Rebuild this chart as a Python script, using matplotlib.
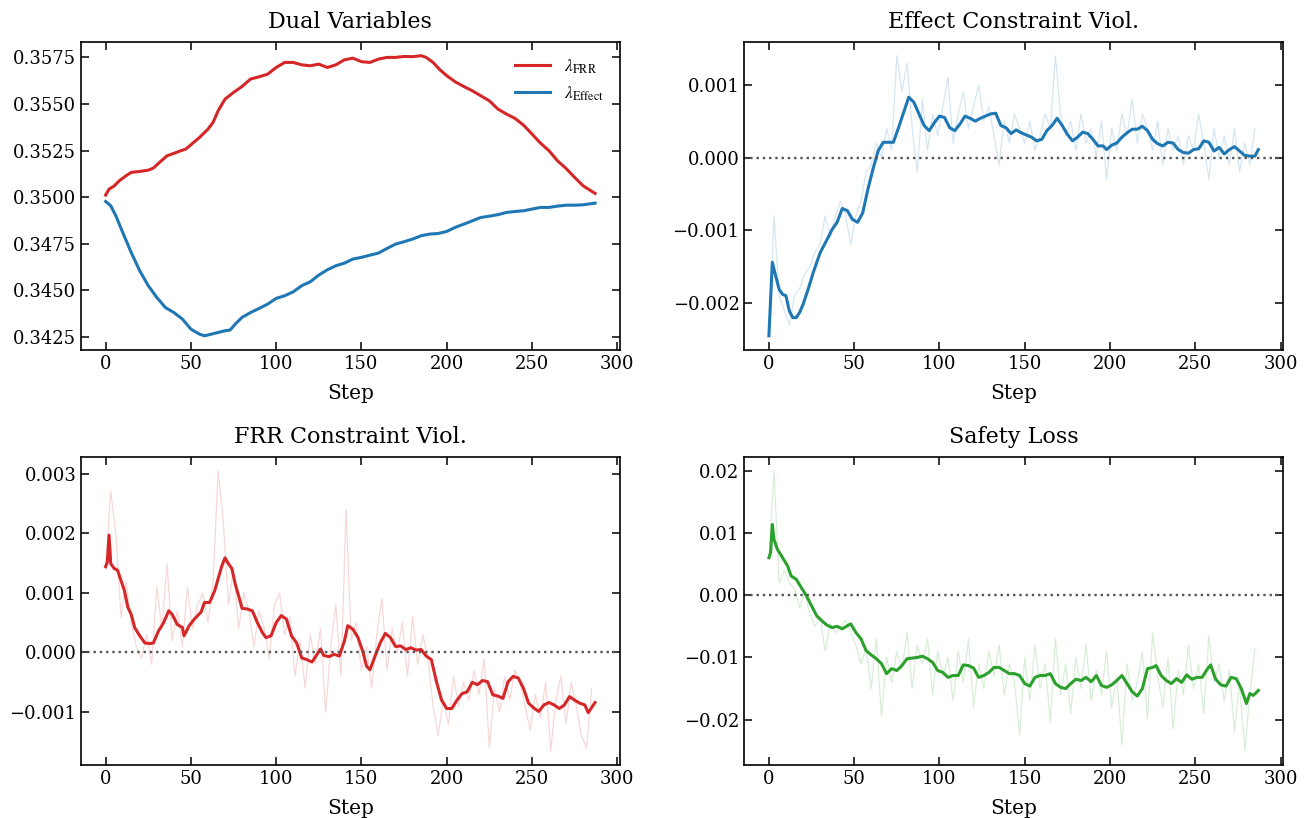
import numpy as np
import matplotlib
matplotlib.use("Agg")
import matplotlib.pyplot as plt

plt.rcParams['font.family'] = 'serif'
plt.rcParams['font.serif'] = ['DejaVu Serif']
plt.rcParams['mathtext.fontset'] = 'stix'

# ---- Dual variables (smoothed only) ----
dual_steps = [0, 2, 5, 8, 12, 15, 20, 25, 28, 32, 36, 40, 44, 47, 50, 55, 60, 63, 66, 70,
              75, 80, 85, 90, 95, 100, 105, 110, 115, 120, 125, 130, 135, 140, 145, 150,
              155, 160, 165, 170, 175, 180, 185, 188, 192, 196, 200, 205, 210, 215, 220,
              225, 230, 235, 240, 245, 250, 255, 260, 265, 270, 275, 280, 287]
lam_frr = [0.35011, 0.35043, 0.35060, 0.35088, 0.35115, 0.35133, 0.35138, 0.35145, 0.35156,
           0.35190, 0.35222, 0.35235, 0.35249, 0.35258, 0.35281, 0.35320, 0.35365, 0.35401,
           0.35464, 0.35526, 0.35562, 0.35594, 0.35634, 0.35646, 0.35660, 0.35696, 0.35723,
           0.35723, 0.35710, 0.35705, 0.35714, 0.35696, 0.35710, 0.35737, 0.35746, 0.35727,
           0.35723, 0.35741, 0.35750, 0.35750, 0.35755, 0.35754, 0.35759, 0.35750, 0.35723,
           0.35684, 0.35652, 0.35619, 0.35594, 0.35571, 0.35544, 0.35517, 0.35473, 0.35446,
           0.35423, 0.35387, 0.35339, 0.35290, 0.35249, 0.35195, 0.35154, 0.35106, 0.35061,
           0.35020]
lam_eff_steps = [0, 3, 6, 10, 15, 20, 25, 30, 35, 40, 45, 50, 55, 58, 62, 66, 70, 73, 76, 80,
                 85, 90, 95, 100, 105, 110, 115, 120, 125, 130, 135, 140, 145, 150, 155, 160,
                 165, 170, 175, 180, 185, 190, 195, 200, 205, 210, 215, 220, 225, 230, 235,
                 240, 245, 250, 255, 260, 265, 270, 275, 280, 287]
lam_eff = [0.34977, 0.34954, 0.34900, 0.34811, 0.34703, 0.34605, 0.34525, 0.34462, 0.34408,
           0.34381, 0.34346, 0.34292, 0.34265, 0.34256, 0.34265, 0.34274, 0.34283, 0.34287,
           0.34319, 0.34355, 0.34381, 0.34403, 0.34426, 0.34457, 0.34471, 0.34492, 0.34525,
           0.34546, 0.34582, 0.34610, 0.34632, 0.34646, 0.34668, 0.34677, 0.34689, 0.34700,
           0.34725, 0.34748, 0.34761, 0.34775, 0.34793, 0.34802, 0.34805, 0.34816, 0.34838,
           0.34855, 0.34873, 0.34891, 0.34898, 0.34906, 0.34918, 0.34923, 0.34927, 0.34936,
           0.34945, 0.34945, 0.34952, 0.34957, 0.34957, 0.34959, 0.34968]

# raw series are sampled every 3 steps
raw_steps = list(range(0, 288, 3))

# ---- Effect constraint violation ----
eff_steps = [0, 2, 4, 6, 8, 10, 12, 14, 16, 18, 20, 23, 26, 30, 34, 37, 40, 43, 46, 49, 52,
             55, 58, 61, 64, 67, 70, 73, 76, 79, 82, 85, 88, 91, 94, 97, 100, 103, 106, 109,
             112, 115, 118, 121, 124, 127, 130, 133, 136, 139, 142, 145, 148, 151, 154, 157,
             160, 163, 166, 169, 172, 175, 178, 181, 184, 187, 190, 193, 196, 198, 201, 204,
             207, 210, 213, 216, 219, 222, 225, 228, 231, 234, 237, 240, 243, 246, 249, 252,
             255, 258, 261, 264, 267, 270, 273, 276, 279, 282, 285, 287]
eff_smooth = [-0.00245, -0.00144, -0.00163, -0.00181, -0.00188, -0.00190, -0.00211, -0.00220,
              -0.00220, -0.00213, -0.00202, -0.00181, -0.00158, -0.00131, -0.00113, -0.00099,
              -0.00089, -0.00070, -0.00073, -0.00085, -0.00089, -0.00076, -0.00044, -0.00016,
              0.00009, 0.00021, 0.00021, 0.00021, 0.00041, 0.00062, 0.00083, 0.00076, 0.00060,
              0.00044, 0.00037, 0.00048, 0.00057, 0.00055, 0.00041, 0.00037, 0.00046, 0.00057,
              0.00054, 0.00050, 0.00054, 0.00057, 0.00060, 0.00061, 0.00044, 0.00041, 0.00033,
              0.00038, 0.00034, 0.00031, 0.00028, 0.00023, 0.00025, 0.00037, 0.00044, 0.00054,
              0.00044, 0.00032, 0.00023, 0.00028, 0.00035, 0.00033, 0.00025, 0.00016, 0.00016,
              0.00011, 0.00017, 0.00020, 0.00028, 0.00034, 0.00039, 0.00039, 0.00043, 0.00037,
              0.00025, 0.00019, 0.00016, 0.00021, 0.00020, 0.00011, 0.00007, 0.00006, 0.00011,
              0.00012, 0.00023, 0.00021, 0.00009, 0.00014, 0.00005, 0.00011, 0.00015, 0.00009,
              0.00003, 0.00002, 0.00002, 0.00011]
eff_raw = [-0.0024, -0.0008, -0.0019, -0.0021, -0.0023, -0.0019, -0.0018, -0.0016, -0.0015,
           -0.0013, -0.0012, -0.0008, -0.0011, -0.0008, -0.0006, -0.0008, -0.0012, -0.0008,
           -0.0006, -0.0002, -0.0001, 0.0002, 0.0000, 0.0004, 0.0001, 0.0014, 0.0009, 0.0013,
           0.0004, -0.0002, 0.0008, 0.0001, 0.0006, 0.0003, 0.0007, 0.0011, 0.0002, 0.0006,
           0.0009, 0.0004, 0.0007, 0.0010, 0.0005, 0.0007, 0.0003, -0.0001, 0.0005, 0.0002,
           0.0006, 0.0004, 0.0002, 0.0005, 0.0001, 0.0003, 0.0006, 0.0004, 0.0014, 0.0006,
           0.0003, 0.0005, 0.0001, 0.0006, 0.0002, 0.0004, 0.0000, 0.0005, -0.0003, 0.0004,
           0.0001, 0.0006, 0.0003, 0.0008, 0.0002, 0.0006, 0.0004, 0.0001, 0.0005, -0.0001,
           0.0004, 0.0001, 0.0003, -0.0001, 0.0003, 0.0001, 0.0006, 0.0002, -0.0003, 0.0004,
           0.0000, 0.0003, -0.0001, 0.0004, -0.0002, 0.0002, -0.0001, 0.0004]

# ---- FRR constraint violation ----
frr_steps = [0, 1, 2, 3, 5, 7, 9, 11, 13, 15, 17, 20, 23, 26, 28, 31, 34, 37, 39, 42, 45, 46,
             49, 52, 56, 58, 61, 64, 66, 68, 70, 72, 74, 76, 78, 80, 83, 86, 89, 92, 94, 97,
             100, 103, 106, 109, 112, 115, 118, 121, 124, 126, 128, 131, 134, 137, 140, 142,
             145, 148, 151, 153, 155, 158, 161, 164, 167, 170, 173, 176, 179, 182, 185, 188,
             191, 194, 197, 200, 203, 206, 209, 212, 215, 218, 221, 224, 227, 230, 233, 236,
             239, 242, 245, 248, 251, 254, 257, 260, 263, 266, 269, 272, 275, 278, 281, 283,
             286, 287]
frr_smooth = [0.00144, 0.00152, 0.00197, 0.00149, 0.00141, 0.00138, 0.00121, 0.00104, 0.00076,
              0.00064, 0.00042, 0.00028, 0.00016, 0.00015, 0.00016, 0.00036, 0.00050, 0.00070,
              0.00064, 0.00047, 0.00042, 0.00028, 0.00045, 0.00056, 0.00068, 0.00084, 0.00084,
              0.00104, 0.00124, 0.00144, 0.00159, 0.00149, 0.00141, 0.00115, 0.00095, 0.00074,
              0.00073, 0.00070, 0.00050, 0.00033, 0.00025, 0.00028, 0.00050, 0.00062, 0.00056,
              0.00028, 0.00016, -0.00009, -0.00012, -0.00016, -0.00003, 0.00006, -0.00005,
              -0.00007, -0.00003, -0.00006, 0.00019, 0.00045, 0.00039, 0.00025, 0.00000,
              -0.00023, -0.00029, -0.00006, 0.00016, 0.00032, 0.00025, 0.00010, 0.00011,
              0.00005, 0.00008, 0.00004, 0.00005, -0.00006, -0.00012, -0.00049, -0.00080,
              -0.00094, -0.00094, -0.00080, -0.00069, -0.00066, -0.00050, -0.00054, -0.00047,
              -0.00049, -0.00071, -0.00073, -0.00077, -0.00049, -0.00040, -0.00043, -0.00060,
              -0.00085, -0.00093, -0.00099, -0.00088, -0.00084, -0.00088, -0.00094, -0.00088,
              -0.00074, -0.00080, -0.00085, -0.00088, -0.00101, -0.00088, -0.00084]
frr_raw = [0.0014, 0.0027, 0.0020, 0.0006, 0.0012, 0.0005, 0.0001, -0.0001, 0.0003, -0.0002,
           0.0011, 0.0004, 0.0015, 0.0002, 0.0007, 0.0001, 0.0011, 0.0004, 0.0008, 0.0010,
           0.0005, 0.0012, 0.00305, 0.0022, 0.0008, 0.0014, 0.0004, 0.0010, 0.0007, 0.0001,
           0.0007, 0.0004, -0.0001, 0.0008, 0.0010, 0.0003, 0.0006, -0.0004, 0.0002, -0.0006,
           0.0003, -0.0002, 0.0004, -0.0010, 0.0001, 0.0008, -0.0004, 0.0024, 0.0002, 0.0005,
           -0.0003, 0.0001, -0.0006, 0.0003, 0.0009, -0.0003, 0.0004, 0.0000, 0.0005, -0.0004,
           0.0006, -0.0002, 0.0003, -0.0001, -0.0009, -0.0014, -0.0008, -0.0012, -0.0004,
           -0.0009, -0.0005, -0.0008, -0.0003, -0.0007, -0.0001, -0.0016, -0.0006, -0.0010,
           -0.0004, -0.0008, -0.0003, -0.0005, -0.0009, -0.0013, -0.0007, -0.0011, -0.0005,
           -0.00165, -0.0008, -0.0004, -0.0012, -0.0005, -0.0009, -0.0014, -0.0016, -0.0006]

# ---- Safety loss ----
saf_steps = [0, 1, 2, 3, 5, 8, 11, 13, 16, 19, 22, 25, 28, 31, 34, 37, 40, 43, 46, 48, 51, 54,
             57, 60, 63, 66, 69, 72, 75, 78, 81, 84, 87, 90, 93, 96, 99, 102, 105, 108, 111,
             114, 117, 120, 123, 126, 129, 132, 135, 138, 141, 144, 147, 150, 153, 156, 159,
             162, 165, 168, 171, 174, 177, 180, 183, 186, 189, 192, 195, 198, 201, 204, 207,
             210, 213, 216, 219, 222, 225, 227, 230, 233, 236, 239, 242, 245, 248, 251, 254,
             257, 259, 262, 265, 268, 271, 274, 277, 280, 282, 284, 286, 287]
saf_smooth = [0.00603, 0.00683, 0.01136, 0.00896, 0.00736, 0.00603, 0.00469, 0.00309, 0.00256,
              0.00123, -0.0001, -0.0017, -0.0033, -0.0041, -0.0048, -0.0052, -0.0050, -0.0054,
              -0.0049, -0.0046, -0.0060, -0.0070, -0.0089, -0.0096, -0.0102, -0.0110, -0.0126,
              -0.0118, -0.0121, -0.0113, -0.0102, -0.0101, -0.0100, -0.0098, -0.0102, -0.0108,
              -0.0121, -0.0124, -0.0132, -0.0129, -0.0129, -0.0112, -0.0113, -0.0117, -0.0132,
              -0.0129, -0.0124, -0.0116, -0.0116, -0.0121, -0.0126, -0.0126, -0.0129, -0.0142,
              -0.0146, -0.0132, -0.0129, -0.0129, -0.0126, -0.0142, -0.0148, -0.0150, -0.0142,
              -0.0135, -0.0137, -0.0132, -0.0139, -0.0129, -0.0145, -0.0148, -0.0144, -0.0137,
              -0.0129, -0.0142, -0.0155, -0.0162, -0.0150, -0.0118, -0.0116, -0.0113, -0.0129,
              -0.0137, -0.0142, -0.0134, -0.0140, -0.0128, -0.0135, -0.0132, -0.0132, -0.0119,
              -0.0112, -0.0135, -0.0144, -0.0146, -0.0132, -0.0134, -0.0150, -0.0174, -0.0158,
              -0.0161, -0.0156, -0.0153]
saf_raw = [0.0060, 0.0200, 0.0020, 0.0040, 0.0020, 0.0010, -0.0020, 0.0005, -0.0030, -0.0050,
           -0.0035, -0.0090, -0.0045, -0.0060, -0.0050, -0.0040, -0.0060, -0.0080, -0.0110,
           -0.0085, -0.0150, -0.0070, -0.0195, -0.0100, -0.0140, -0.0090, -0.0120, -0.0060,
           -0.0150, -0.0080, -0.0110, -0.0070, -0.0160, -0.0090, -0.0130, -0.0100, -0.0170,
           -0.0090, -0.0140, -0.0070, -0.0180, -0.0110, -0.0150, -0.0090, -0.0130, -0.0080,
           -0.0160, -0.0110, -0.0140, -0.0225, -0.0100, -0.0170, -0.0080, -0.0150, -0.0110,
           -0.0205, -0.0070, -0.0160, -0.0110, -0.0190, -0.0100, -0.0150, -0.0080, -0.0170,
           -0.0120, -0.0160, -0.0090, -0.0180, -0.0130, -0.0240, -0.0110, -0.0170, -0.0140,
           -0.0090, -0.0200, -0.0060, -0.0130, -0.0180, -0.0100, -0.0215, -0.0120, -0.0160,
           -0.0080, -0.0150, -0.0110, -0.0190, -0.0065, -0.0140, -0.0110, -0.0170, -0.0120,
           -0.0220, -0.0140, -0.0250, -0.0160, -0.0085]

RED = '#d62728'
BLUE = '#1f77b4'
GREEN = '#2ca02c'

fig, axes = plt.subplots(2, 2, figsize=(13.09, 8.18), dpi=100)
fig.subplots_adjust(left=0.062, right=0.980, top=0.949, bottom=0.065,
                    wspace=0.232, hspace=0.347)

ax = axes[0, 0]
ax.plot(dual_steps, lam_frr, color=RED, lw=2.2, label=r'$\lambda_{\mathrm{FRR}}$')
ax.plot(lam_eff_steps, lam_eff, color=BLUE, lw=2.2, label=r'$\lambda_{\mathrm{Effect}}$')
ax.set_title('Dual Variables', fontsize=16, pad=10)
ax.legend(loc='upper right', frameon=False, fontsize=12.5)

panels = [
    (axes[0, 1], eff_steps, eff_smooth, eff_raw, BLUE, 'Effect Constraint Viol.'),
    (axes[1, 0], frr_steps, frr_smooth, frr_raw, RED, 'FRR Constraint Viol.'),
    (axes[1, 1], saf_steps, saf_smooth, saf_raw, GREEN, 'Safety Loss'),
]
for ax, st, sm, raw, c, title in panels:
    ax.plot(raw_steps, raw, color=c, lw=0.9, alpha=0.18)
    ax.plot(st, sm, color=c, lw=2.2)
    ax.axhline(0, color='#555555', ls=':', lw=1.7)
    ax.set_title(title, fontsize=16, pad=10)

axes[0, 1].set_yticks([-0.002, -0.001, 0.0, 0.001])
axes[1, 0].set_yticks([-0.001, 0.0, 0.001, 0.002, 0.003])
axes[1, 1].set_yticks([-0.02, -0.01, 0.0, 0.01, 0.02])

for ax in axes.flat:
    ax.set_xlabel('Step', fontsize=14.5, labelpad=8)
    ax.set_xticks([0, 50, 100, 150, 200, 250, 300])
    ax.tick_params(direction='in', top=True, right=True, length=6, width=1.1, labelsize=13)
    for sp in ax.spines.values():
        sp.set_linewidth(1.2)

plt.savefig('out.png', dpi=100)
